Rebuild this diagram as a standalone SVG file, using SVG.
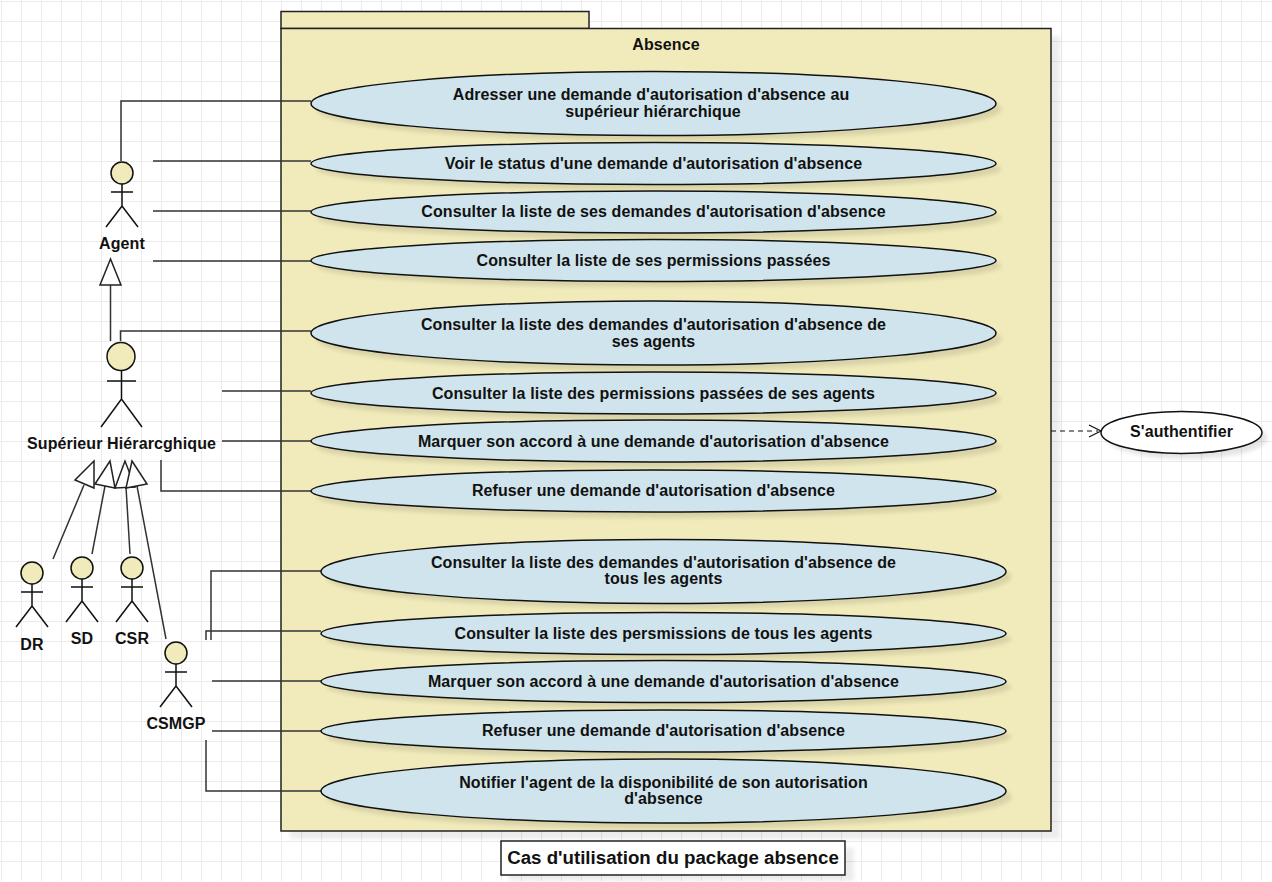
<svg xmlns="http://www.w3.org/2000/svg" width="1272" height="882" viewBox="0 0 1272 882">
<style>
text{font-family:"Liberation Sans",Arial,sans-serif;font-weight:bold;font-size:16px;letter-spacing:.1px;fill:#111;text-anchor:middle}
.uc{fill:#cfe4ec;stroke:#111;stroke-width:1.5}
.sh{fill:#000;opacity:.1;filter:url(#blur)}
.pk{fill:#f1ebbb;stroke:#222;stroke-width:1.5}
.act{fill:#f1ebbb;stroke:#111;stroke-width:1.5}
.lim{fill:none;stroke:#111;stroke-width:1.5}
.c{fill:none;stroke:#333;stroke-width:1.5}
.g{fill:#fff;stroke:#222;stroke-width:1.5}
</style>
<defs>
<filter id="blur" x="-5%" y="-20%" width="110%" height="140%"><feGaussianBlur stdDeviation="2"/></filter>
<pattern id="grid" width="20" height="20" patternUnits="userSpaceOnUse" x="1" y="1">
<path d="M0.5 0V20M0 0.5H20" fill="none" stroke="#ebebeb" stroke-width="1"/>
</pattern>
<g id="stick"><path class="lim" d="M-11 19H11M0 11V33M-16 54L0 33L16 54"/><circle class="act" r="11"/></g>
</defs>
<rect width="1272" height="882" fill="#fff"/>
<rect width="1272" height="881" fill="url(#grid)"/>
<g id="package">
<rect class="sh" x="290" y="36" width="770" height="803" style="opacity:.07"/>
<rect class="pk" x="281" y="11.500" width="308" height="17"/>
<rect class="pk" x="281" y="28.500" width="770" height="802.500"/>
<text x="666" y="49.500">Absence</text>
</g>
<g id="connectors">
<path class="c" d="M121 161V101H311M153 161H311M153 211H311M153 261H311"/>
<path class="c" d="M110.500 285V341M120.500 341V331H311M222 391H311M222 441H311M161 460V491H311"/>
<path class="c" d="M84 485L53 559M105 486L92 554M126 487L130 554M137 486L166 639"/>
<path class="c" d="M211 640V571H321M206 640V631H321M212 681H321M212 731H321M206 740V791H321"/>
<polygon class="g" points="110.500,259 100,285 121,285"/>
<polygon class="g" points="94,461 75,480 94,488"/>
<polygon class="g" points="110,461 95,484 115,488"/>
<polygon class="g" points="125,461 115,488 135,487"/>
<polygon class="g" points="132,461 126,488 147,484"/>
<path d="M1051 431H1098" fill="none" stroke="#111" stroke-width="1.200" stroke-dasharray="5 4"/>
<path d="M1089 425L1101 431L1089 437" fill="none" stroke="#111" stroke-width="1.200"/>
</g>
<g id="agent"><use href="#stick" x="122" y="173"/><text x="122" y="249">Agent</text></g>
<g id="superieur"><circle class="act" cx="121" cy="356.500" r="14"/><path class="lim" d="M107 381H136M121.500 371V399M101 427L121.500 399L142 427"/><text x="121.500" y="449">Supérieur Hiérarcghique</text></g>
<g id="dr"><use href="#stick" x="32" y="573"/><text x="32" y="649.500">DR</text></g>
<g id="sd"><use href="#stick" x="82" y="568"/><text x="82" y="643.500">SD</text></g>
<g id="csr"><use href="#stick" x="132" y="568"/><text x="132" y="643.500">CSR</text></g>
<g id="csmgp"><use href="#stick" x="176" y="653"/><text x="176" y="728.500">CSMGP</text></g>
<g id="uc1"><ellipse class="sh" cx="659" cy="109" rx="342.500" ry="32"/><ellipse class="uc" cx="653.500" cy="103.500" rx="342.500" ry="32"/><text x="651" y="99.500">Adresser une demande d'autorisation d'absence au</text><text x="653" y="117">supérieur hiérarchique</text></g>
<g id="uc2"><ellipse class="sh" cx="659" cy="169" rx="342.500" ry="21"/><ellipse class="uc" cx="653.500" cy="163.500" rx="342.500" ry="21"/><text x="653.500" y="168.500">Voir le status d'une demande d'autorisation d'absence</text></g>
<g id="uc3"><ellipse class="sh" cx="659" cy="218" rx="342.500" ry="21"/><ellipse class="uc" cx="653.500" cy="212" rx="342.500" ry="21"/><text x="653.500" y="216.500">Consulter la liste de ses demandes d'autorisation d'absence</text></g>
<g id="uc4"><ellipse class="sh" cx="659" cy="266" rx="342.500" ry="21"/><ellipse class="uc" cx="653.500" cy="260.500" rx="342.500" ry="21"/><text x="653.500" y="265.500">Consulter la liste de ses permissions passées</text></g>
<g id="uc5"><ellipse class="sh" cx="659" cy="339" rx="342.500" ry="32"/><ellipse class="uc" cx="653.500" cy="333" rx="342.500" ry="32"/><text x="653.500" y="329.500">Consulter la liste des demandes d'autorisation d'absence de</text><text x="653.500" y="346.500">ses agents</text></g>
<g id="uc6"><ellipse class="sh" cx="659" cy="399" rx="342.500" ry="21"/><ellipse class="uc" cx="653.500" cy="393" rx="342.500" ry="21"/><text x="653.500" y="398.500">Consulter la liste des permissions passées de ses agents</text></g>
<g id="uc7"><ellipse class="sh" cx="659" cy="447" rx="342.500" ry="21"/><ellipse class="uc" cx="653.500" cy="441" rx="342.500" ry="21"/><text x="653.500" y="446.500">Marquer son accord à une demande d'autorisation d'absence</text></g>
<g id="uc8"><ellipse class="sh" cx="659" cy="497" rx="342.500" ry="21"/><ellipse class="uc" cx="653.500" cy="491" rx="342.500" ry="21"/><text x="653.500" y="495.500">Refuser une demande d'autorisation d'absence</text></g>
<g id="uc9"><ellipse class="sh" cx="669" cy="577" rx="342.500" ry="32"/><ellipse class="uc" cx="663.500" cy="571.500" rx="342.500" ry="32"/><text x="663.500" y="567.500">Consulter la liste des demandes d'autorisation d'absence de</text><text x="663.500" y="583.500">tous les agents</text></g>
<g id="uc10"><ellipse class="sh" cx="669" cy="639" rx="342.500" ry="21"/><ellipse class="uc" cx="663.500" cy="633.500" rx="342.500" ry="21"/><text x="663.500" y="638.500">Consulter la liste des persmissions de tous les agents</text></g>
<g id="uc11"><ellipse class="sh" cx="669" cy="687" rx="342.500" ry="21"/><ellipse class="uc" cx="663.500" cy="681.500" rx="342.500" ry="21"/><text x="663.500" y="686.500">Marquer son accord à une demande d'autorisation d'absence</text></g>
<g id="uc12"><ellipse class="sh" cx="669" cy="737" rx="342.500" ry="21"/><ellipse class="uc" cx="663.500" cy="731" rx="342.500" ry="21"/><text x="663.500" y="735.500">Refuser une demande d'autorisation d'absence</text></g>
<g id="uc13"><ellipse class="sh" cx="669" cy="797" rx="342.500" ry="32"/><ellipse class="uc" cx="663.500" cy="791" rx="342.500" ry="32"/><text x="663.500" y="787.500">Notifier l'agent de la disponibilité de son autorisation</text><text x="663.500" y="803.500">d'absence</text></g>
<g id="auth"><ellipse class="sh" cx="1187" cy="438" rx="80.500" ry="21"/><ellipse cx="1181.500" cy="432.500" rx="80.500" ry="21" fill="#fff" stroke="#111" stroke-width="1.500"/><text x="1181.500" y="437">S'authentifier</text></g>
<g id="caption"><rect class="sh" x="509" y="848" width="345" height="33" style="opacity:.07"/><rect x="501" y="841" width="344" height="34" fill="#fff" stroke="#222" stroke-width="1.500"/><text x="673" y="863.500" style="font-size:18.7px;letter-spacing:0">Cas d'utilisation du package absence</text></g>
</svg>
